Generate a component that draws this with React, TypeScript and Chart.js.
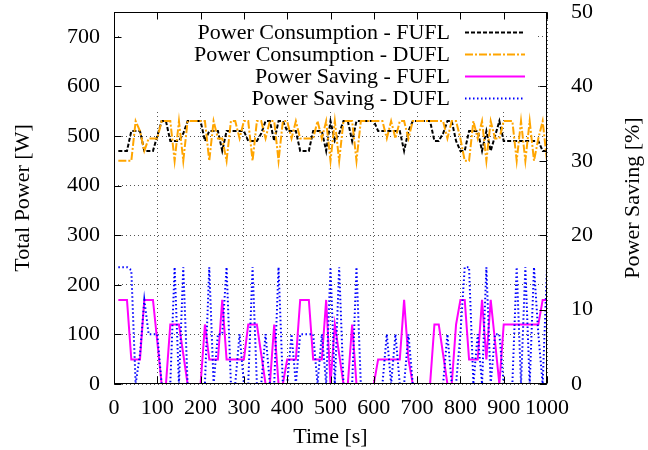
import { useEffect, useRef } from "react";
import { Chart, registerables } from "chart.js";

Chart.register(...registerables);

// ---- data ----
const times = [
  10, 20, 30, 40, 50, 60, 70, 80, 90, 100,
  110, 120, 130, 140, 150, 160, 170, 180, 190, 200,
  210, 220, 230, 240, 250, 260, 270, 280, 290, 300,
  310, 320, 330, 340, 350, 360, 370, 380, 390, 400,
  410, 420, 430, 440, 450, 460, 470, 480, 490, 500,
  510, 520, 530, 540, 550, 560, 570, 580, 590, 600,
  610, 620, 630, 640, 650, 660, 670, 680, 690, 700,
  710, 720, 730, 740, 750, 760, 770, 780, 790, 800,
  810, 820, 830, 840, 850, 860, 870, 880, 890, 900,
  910, 920, 930, 940, 950, 960, 970, 980, 990, 1000,
];

// Total power [W]
const powerFUFL = [
  470, 470, 470, 510, 510, 510, 470, 470, 470, 500,
  530, 530, 490, 490, 490, 505, 530, 530, 530, 530,
  490, 510, 510, 510, 470, 510, 510, 510, 510, 510,
  490, 490, 490, 505, 530, 530, 490, 530, 530, 510,
  510, 510, 470, 470, 470, 510, 510, 510, 470, 530,
  490, 505, 530, 530, 490, 530, 530, 530, 530, 530,
  510, 510, 510, 510, 510, 510, 470, 510, 530, 530,
  530, 530, 530, 490, 490, 505, 530, 530, 490, 470,
  470, 510, 510, 510, 470, 510, 470, 500, 530, 490,
  490, 490, 490, 490, 490, 490, 490, 490, 470, 470,
];

const powerDUFL = [
  450, 450, 450, 450, 530, 510, 470, 495, 495, 495,
  530, 530, 530, 450, 530, 450, 530, 530, 530, 530,
  530, 450, 530, 495, 495, 450, 530, 530, 495, 530,
  530, 450, 530, 530, 495, 530, 530, 450, 530, 530,
  495, 530, 495, 495, 495, 495, 530, 495, 530, 450,
  530, 450, 530, 530, 530, 450, 530, 530, 530, 530,
  530, 530, 495, 530, 495, 530, 530, 495, 530, 530,
  530, 530, 530, 530, 530, 530, 495, 530, 530, 495,
  450, 450, 530, 495, 530, 450, 530, 495, 495, 530,
  530, 530, 450, 530, 450, 530, 450, 495, 530, 450,
];

// Power saving [%]
const savingFUFL = [
  11.3, 11.3, 11.3, 3.3, 3.3, 3.3, 11.3, 11.3, 11.3, 5.7,
  0, 0, 8, 8, 8, 4, 0, 0, 0, 0,
  8, 3.3, 3.3, 3.3, 11.3, 3.3, 3.3, 3.3, 3.3, 3.3,
  8, 8, 8, 4, 0, 0, 8, 0, 0, 3.3,
  3.3, 3.3, 11.3, 11.3, 11.3, 3.3, 3.3, 3.3, 11.3, 0,
  8, 4, 0, 0, 8, 0, 0, 0, 0, 0,
  3.3, 3.3, 3.3, 3.3, 3.3, 3.3, 11.3, 3.3, 0, 0,
  0, 0, 0, 8, 8, 4, 0, 0, 8, 11.3,
  11.3, 3.3, 3.3, 3.3, 11.3, 3.3, 11.3, 5.7, 0, 8,
  8, 8, 8, 8, 8, 8, 8, 8, 11.3, 11.3,
];

const savingDUFL = [
  15.7, 15.7, 15.7, 15.3, 0, 4, 11.3, 6.7, 6.7, 6.7,
  0, 0, 0, 15.7, 0, 15.7, 0, 0, 0, 0,
  0, 15.7, 0, 6.7, 6.7, 15.7, 0, 0, 6.7, 0,
  0, 15.7, 0, 0, 6.7, 0, 0, 15.7, 0, 0,
  6.7, 0, 6.7, 6.7, 6.7, 6.7, 0, 6.7, 0, 15.7,
  0, 15.7, 0, 0, 0, 15.7, 0, 0, 0, 0,
  0, 0, 6.7, 0, 6.7, 0, 0, 6.7, 0, 0,
  0, 0, 0, 0, 0, 0, 6.7, 0, 0, 6.7,
  15.7, 15.7, 0, 6.7, 0, 15.7, 0, 6.7, 6.7, 0,
  0, 0, 15.7, 0, 15.7, 0, 15.7, 6.7, 0, 15.7,
];

const seriesLabels = [
  "Power Consumption - FUFL",
  "Power Consumption - DUFL",
  "Power Saving - FUFL",
  "Power Saving - DUFL",
];

const xTitle = "Time [s]";
const yTitle = "Total Power [W]";
const y2Title = "Power Saving [%]";

const FONT = "'Liberation Serif', 'Times New Roman', serif";
const FS = 22;

const decor = {
  id: "gnuplotDecor",
  beforeDatasetsDraw(chart: any) {
    const { ctx, chartArea: a } = chart;
    ctx.save();
    ctx.fillStyle = "#ffffff";
    ctx.fillRect(a.left + 6, a.top + 1, 537 - (a.left + 6), 110 - a.top);
    ctx.restore();
  },
  afterDraw(chart: any) {
    const { ctx, chartArea: a, scales } = chart;
    const L = Math.round(a.left) + 0.5;
    const R = Math.round(a.right) - 0.5;
    const T = Math.round(a.top) + 0.5;
    const B = Math.round(a.bottom) - 0.5;
    ctx.save();
    ctx.setLineDash([]);
    ctx.strokeStyle = "#000";
    ctx.lineWidth = 1;
    ctx.strokeRect(L, T, R - L, B - T);
    const tl = 7;
    ctx.beginPath();
    scales.x.ticks.forEach((t: any) => {
      const x = Math.round(scales.x.getPixelForValue(t.value)) + 0.5;
      ctx.moveTo(x, B);
      ctx.lineTo(x, B - tl);
      ctx.moveTo(x, T);
      ctx.lineTo(x, T + tl);
    });
    scales.y.ticks.forEach((t: any) => {
      const y = Math.round(scales.y.getPixelForValue(t.value)) + 0.5;
      ctx.moveTo(L, y);
      ctx.lineTo(L + tl, y);
    });
    scales.y2.ticks.forEach((t: any) => {
      const y = Math.round(scales.y2.getPixelForValue(t.value)) + 0.5;
      ctx.moveTo(R, y);
      ctx.lineTo(R - tl, y);
    });
    ctx.stroke();

    // legend
    ctx.font = `${FS}px ${FONT}`;
    ctx.fillStyle = "#000";
    ctx.textAlign = "right";
    ctx.textBaseline = "middle";
    chart.data.datasets.forEach((ds: any, i: number) => {
      const y = 32 + i * 22;
      ctx.fillText(ds.label, 450, y + 1);
      ctx.save();
      ctx.strokeStyle = ds.borderColor;
      ctx.lineWidth = ds.borderWidth;
      ctx.setLineDash(ds.borderDash || []);
      ctx.beginPath();
      ctx.moveTo(465, y + 0.5);
      ctx.lineTo(525, y + 0.5);
      ctx.stroke();
      ctx.restore();
    });

    // right axis title, reading bottom to top
    ctx.save();
    ctx.translate(633, (a.top + a.bottom) / 2);
    ctx.rotate(-Math.PI / 2);
    ctx.textAlign = "center";
    ctx.textBaseline = "middle";
    ctx.fillText(y2Title, 0, 0);
    ctx.restore();
    ctx.restore();
  },
};

export default function App() {
  const ref = useRef<HTMLCanvasElement | null>(null);
  useEffect(() => {
    if (!ref.current) return;
    const mk = (arr: number[]) => times.map((t, i) => ({ x: t, y: arr[i] }));
    const font = { family: FONT, size: FS };
    const fitY = (w: number) => (s: any) => {
      s.width = w;
      s.paddingTop = 0;
      s.paddingBottom = 0;
    };
    const chart = new Chart(ref.current, {
      type: "line",
      data: {
        datasets: [
          {
            label: seriesLabels[0],
            data: mk(powerFUFL),
            yAxisID: "y",
            borderColor: "#000000",
            borderWidth: 2,
            borderDash: [4, 2],
            pointRadius: 0,
            tension: 0,
            order: 4,
          },
          {
            label: seriesLabels[1],
            data: mk(powerDUFL),
            yAxisID: "y",
            borderColor: "#ffa500",
            borderWidth: 2,
            borderDash: [8, 2, 2, 2],
            pointRadius: 0,
            tension: 0,
            order: 3,
          },
          {
            label: seriesLabels[2],
            data: mk(savingFUFL),
            yAxisID: "y2",
            borderColor: "#ff00ff",
            borderWidth: 2,
            pointRadius: 0,
            tension: 0,
            order: 2,
          },
          {
            label: seriesLabels[3],
            data: mk(savingDUFL),
            yAxisID: "y2",
            borderColor: "#0000ff",
            borderWidth: 2,
            borderDash: [1.5, 2.5],
            pointRadius: 0,
            tension: 0,
            order: 1,
          },
        ],
      },
      options: {
        animation: false,
        responsive: false,
        maintainAspectRatio: false,
        layout: { padding: { top: 12, left: 0, right: 0, bottom: 0 } },
        plugins: { legend: { display: false }, tooltip: { enabled: false } },
        scales: {
          x: {
            type: "linear",
            min: 0,
            max: 1000,
            afterFit: (s: any) => {
              s.height = 66;
              s.paddingLeft = 0;
              s.paddingRight = 0;
            },
            ticks: {
              stepSize: 100,
              color: "#000",
              font,
              padding: 11,
              maxRotation: 0,
              autoSkip: false,
              callback: (v: any) => String(v),
            },
            grid: { color: "#555", lineWidth: 1, drawTicks: false },
            border: { display: false, dash: [1, 3] },
            title: {
              display: true,
              text: xTitle,
              color: "#000",
              font,
              padding: { top: 6, bottom: 0 },
            },
          },
          y: {
            type: "linear",
            position: "left",
            min: 0,
            max: 750,
            afterFit: fitY(114),
            afterBuildTicks: (s: any) => {
              s.ticks = s.ticks.filter((t: any) => t.value % 100 === 0);
            },
            ticks: { stepSize: 100, color: "#000", font, padding: 14 },
            grid: { color: "#555", lineWidth: 1, drawTicks: false },
            border: { display: false, dash: [1, 3] },
            title: {
              display: true,
              text: yTitle,
              color: "#000",
              font,
              padding: { top: 10, bottom: 0 },
            },
          },
          y2: {
            type: "linear",
            position: "right",
            min: 0,
            max: 50,
            afterFit: fitY(101),
            ticks: { stepSize: 10, color: "#000", font, padding: 24 },
            grid: { display: false, drawTicks: false },
            border: { display: false },
          },
        },
      },
      plugins: [decor],
    });
    return () => chart.destroy();
  }, []);
  return (
    <div style={{ position: "absolute", left: 0, top: 0, width: 648, height: 450 }}>
      <canvas ref={ref} width={648} height={450} />
    </div>
  );
}
